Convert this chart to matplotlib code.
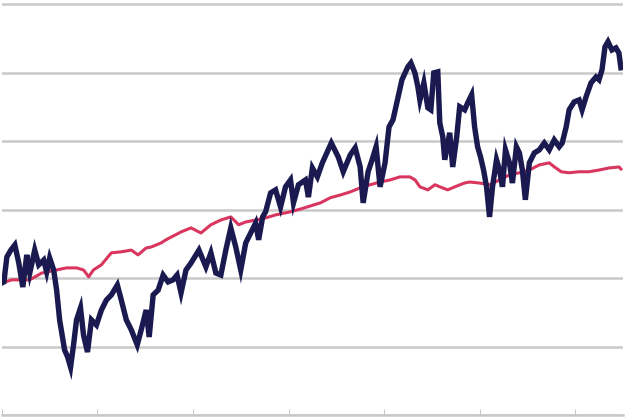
import matplotlib
matplotlib.use("Agg")
import matplotlib.pyplot as plt

# time axis in months from start, values as an index (gridline every 20)
fund_months = [
    0, 0.25, 0.625, 1.125, 1.625, 2.125, 2.625, 3.125, 3.5, 4.125,
    4.625, 5.25, 5.625, 6.0, 6.5, 6.875, 7.25, 7.5, 7.875, 8.25,
    8.625, 9.0, 9.375, 9.875, 10.25, 10.75, 11.25, 11.875, 12.5, 13.125,
    13.75, 14.5, 15.0, 15.625, 16.25, 17.0, 17.5, 18.125, 18.5, 19.0,
    19.625, 20.25, 20.875, 21.5, 22.0, 22.5, 23.125, 23.75, 24.75, 25.625,
    26.25, 26.875, 27.5, 28.125, 28.75, 29.375, 30.0, 30.625, 31.25, 31.875,
    32.25, 32.75, 33.125, 33.75, 34.375, 35.0, 35.625, 36.25, 36.625, 37.25,
    38.125, 38.5, 39.0, 39.625, 40.25, 41.375, 42.25, 42.875, 43.75, 44.375,
    45.0, 45.375, 46.0, 46.5, 47.0, 47.5, 48.125, 48.625, 49.125, 49.625,
    50.25, 51.0, 51.375, 51.875, 52.25, 52.5, 53.0, 53.5, 53.875, 54.25,
    54.75, 55.0, 55.375, 55.625, 56.25, 56.625, 57.125, 57.5, 58.125, 58.5,
    59.0, 59.375, 59.75, 60.125, 60.5, 60.875, 61.25, 61.625, 62.125, 62.5,
    62.875, 63.25, 63.75, 64.125, 64.625, 65.0, 65.375, 65.75, 66.25, 66.875,
    67.5, 68.125, 68.75, 69.375, 70.0, 70.375, 70.875, 71.25, 71.875, 72.5,
    72.875, 73.375, 74.0, 74.625, 75.0, 75.375, 75.75, 76.125, 76.625, 77.125,
    77.5, 77.75,
]
fund_values = [
    38.6, 38.9, 46.2, 48.2, 49.7, 44.4, 37.4, 46.8, 41.5, 48.2,
    43.9, 45.3, 41.8, 45.9, 42.4, 36.5, 27.8, 24.3, 19.0, 17.0,
    14.0, 20.5, 27.8, 31.3, 23.4, 18.4, 27.8, 26.3, 30.7, 33.6,
    35.1, 38.0, 33.6, 27.8, 24.9, 20.5, 24.9, 30.7, 22.8, 35.1,
    36.5, 40.9, 38.9, 39.5, 40.9, 35.7, 42.4, 44.4, 48.2, 43.3,
    47.4, 41.5, 40.9, 48.2, 54.7, 49.1, 42.4, 50.3, 53.2, 56.1,
    51.2, 57.9, 59.4, 64.9, 65.8, 60.8, 66.7, 68.7, 62.0, 67.3,
    68.7, 63.7, 72.2, 69.6, 73.7, 79.5, 75.4, 71.1, 76.0, 78.1,
    72.5, 62.0, 71.1, 74.6, 78.4, 66.7, 73.7, 84.2, 86.3, 91.5,
    98.0, 101.8, 102.9, 100.0, 95.9, 92.1, 97.1, 89.8, 89.2, 100.0,
    100.3, 85.4, 81.3, 74.6, 82.5, 72.5, 81.3, 90.1, 89.2, 91.2,
    93.6, 84.2, 78.4, 75.4, 71.6, 66.7, 57.9, 66.7, 74.6, 71.6,
    66.7, 77.5, 73.7, 67.8, 78.4, 76.6, 71.6, 62.9, 73.7, 76.6,
    77.5, 79.5, 77.5, 80.4, 78.4, 79.5, 84.2, 89.2, 91.5, 92.1,
    89.2, 93.0, 97.1, 98.8, 98.0, 100.9, 107.6, 109.1, 106.7, 107.3,
    105.8, 101.5,
]

bench_months = [
    0, 1.25, 3.5, 5, 6.9, 8.1, 9.4, 10.25, 10.9, 11.5,
    12.5, 13.75, 15, 16.25, 17.1, 18.1, 18.75, 20, 20.6, 22.5,
    23.75, 25, 26.25, 27.5, 28.75, 29.75, 30.6, 31.9, 33.1, 34.4,
    36.25, 37.5, 38.75, 40, 41.25, 42.5, 43.75, 45, 46.25, 47.5,
    48.75, 50, 51.25, 51.9, 52.5, 53.5, 54.4, 55, 56, 56.9,
    58.1, 58.75, 60, 61.25, 62.5, 63.75, 65, 66.25, 67.5, 68.75,
    69.4, 70.25, 71.25, 72.5, 73.75, 75, 76.25, 77.5, 77.75,
]
bench_values = [
    38.6, 39.5, 39.5, 41.5, 42.4, 43.0, 43.0, 42.4, 40.4, 42.4,
    43.9, 47.4, 47.7, 48.2, 46.8, 48.8, 49.1, 50.3, 51.2, 53.5,
    54.7, 53.2, 55.6, 57.0, 57.9, 55.6, 56.4, 57.0, 57.6, 58.5,
    59.4, 60.2, 61.1, 62.0, 63.5, 64.3, 65.2, 66.4, 67.3, 68.1,
    68.7, 69.6, 69.6, 68.7, 66.7, 65.8, 67.3, 66.7, 65.8, 66.7,
    67.8, 68.1, 67.8, 67.3, 68.7, 70.2, 70.8, 71.6, 73.1, 73.7,
    72.5, 71.1, 70.8, 71.1, 71.1, 71.6, 72.2, 72.5, 71.9,
]

fig = plt.figure(figsize=(6.32, 4.18), dpi=100)
ax = fig.add_axes([0.003, 3 / 418, 621 / 632, 415 / 418])

ax.plot(bench_months, bench_values, color="#d9365f", linewidth=2.2, zorder=2)
ax.plot(fund_months, fund_values, color="#1a1a50", linewidth=3.9,
        solid_joinstyle="miter", zorder=3)

ax.set_xlim(0, 78)
ax.set_ylim(0, 121.3)
ax.set_yticks(range(0, 121, 20))
ax.set_xticks(range(0, 78, 12))
ax.yaxis.grid(True, color="#c9c9c9", linewidth=1.8)
ax.set_axisbelow(True)

for side in ["top", "right", "left"]:
    ax.spines[side].set_visible(False)
ax.spines["bottom"].set_color("#c9c9c9")
ax.spines["bottom"].set_linewidth(1.8)

ax.tick_params(axis="x", direction="in", length=4, color="#c9c9c9",
               labelbottom=False)
ax.tick_params(axis="y", length=0, labelleft=False)

fig.savefig("out.png", dpi=100)
